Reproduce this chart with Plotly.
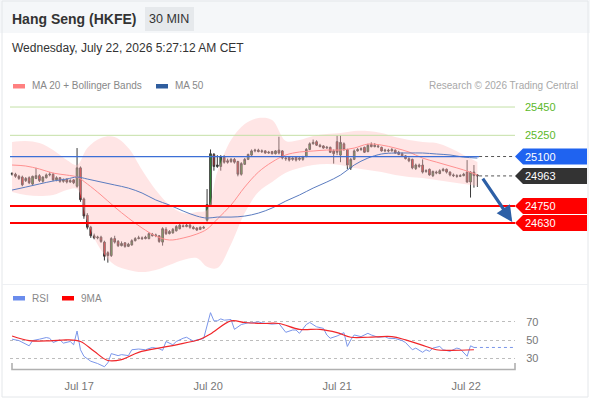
import plotly.graph_objects as go

W, H = 590, 400

# 30 min candles, index 0..136
opens = [24975, 24975, 24960, 24955, 24930, 24950, 24905, 24945, 24965, 24925, 24950, 24970, 24975, 24935, 24950, 24925, 24940, 24920, 24935, 24890,
         25020, 24800, 24685, 24600, 24540, 24525, 24530, 24495, 24420, 24400,
         24520, 24500, 24470, 24490, 24465, 24475, 24505, 24520, 24525, 24520,
         24520, 24550, 24540, 24540, 24495, 24585, 24555, 24560, 24575, 24590,
         24610, 24605, 24615, 24600, 24595, 24585, 24600, 24650, 24760, 25115,
         25030, 25030, 25095, 25070, 25065, 25080, 25065, 24975, 25045, 25080,
         25110, 25140, 25145, 25135, 25140, 25125, 25135, 25120, 25145, 25140,
         25090, 25095, 25080, 25095, 25080, 25080, 25100, 25150, 25190, 25205,
         25180, 25175, 25160, 25165, 25140, 25205, 25110, 25190, 25150, 25020,
         25080, 25140, 25150, 25165, 25135, 25185, 25170, 25175, 25165, 25140,
         25145, 25140, 25145, 25130, 25120, 25105, 25085, 25080, 25015, 25040,
         25040, 24995, 25010, 24965, 24990, 24980, 25000, 25010, 24990, 24970,
         24965, 24960, 24965, 24990, 24920, 24990, 24970]
highs = [24990, 24985, 24970, 24965, 24955, 24960, 24965, 25020, 24975, 24960, 24980, 24990, 24985, 24960, 24955, 24945, 24945, 24940, 24940, 25160,
         25030, 24810, 24700, 24610, 24555, 24540, 24540, 24505, 24430, 24530,
         24540, 24510, 24500, 24495, 24490, 24515, 24530, 24540, 24535, 24540,
         24565, 24560, 24555, 24545, 24600, 24600, 24580, 24595, 24615, 24625,
         24620, 24625, 24625, 24610, 24600, 24605, 24610, 24870, 25150, 25125,
         25110, 25110, 25110, 25085, 25090, 25090, 25070, 25060, 25090, 25120,
         25150, 25155, 25155, 25150, 25145, 25140, 25140, 25145, 25240, 25145,
         25100, 25100, 25095, 25100, 25095, 25105, 25160, 25200, 25220, 25215,
         25190, 25180, 25175, 25170, 25150, 25250, 25250, 25200, 25155, 25090,
         25150, 25160, 25165, 25170, 25190, 25200, 25195, 25185, 25170, 25155,
         25155, 25160, 25150, 25140, 25130, 25110, 25095, 25085, 25050, 25050,
         25080, 25010, 25015, 25000, 25000, 25010, 25020, 25015, 24995, 24980,
         24975, 24975, 24985, 25075, 24995, 25040, 24975]
lows = [24965, 24950, 24935, 24890, 24920, 24905, 24895, 24940, 24920, 24915, 24945, 24960, 24925, 24925, 24915, 24915, 24910, 24915, 24905, 24880,
        24780, 24660, 24585, 24525, 24515, 24515, 24490, 24365, 24350, 24390,
        24485, 24460, 24465, 24455, 24460, 24470, 24500, 24515, 24510, 24515,
        24515, 24535, 24530, 24490, 24470, 24545, 24550, 24555, 24570, 24585,
        24600, 24600, 24590, 24585, 24575, 24580, 24590, 24640, 24750, 25000,
        25020, 25000, 25050, 25050, 25055, 25050, 24960, 24965, 25040, 25075,
        25105, 25130, 25130, 25125, 25120, 25120, 25115, 25115, 25115, 25080,
        25070, 25065, 25070, 25065, 25070, 25070, 25095, 25145, 25185, 25175,
        25165, 25155, 25155, 25125, 25050, 25110, 25060, 25140, 25010, 25005,
        25075, 25135, 25140, 25125, 25130, 25165, 25165, 25160, 25135, 25130,
        25130, 25135, 25120, 25110, 25100, 25080, 25060, 25010, 25005, 25020,
        24980, 24985, 24965, 24955, 24975, 24975, 24995, 24980, 24960, 24955,
        24950, 24955, 24960, 24915, 24810, 24880, 24885]
closes = [24980, 24960, 24945, 24900, 24945, 24915, 24960, 24965, 24930, 24955, 24970, 24975, 24935, 24950, 24925, 24935, 24920, 24930, 24915, 25020,
          24795, 24680, 24600, 24540, 24525, 24530, 24500, 24395, 24400, 24520,
          24495, 24470, 24485, 24465, 24480, 24505, 24520, 24525, 24520, 24530,
          24555, 24540, 24545, 24500, 24590, 24555, 24570, 24585, 24605, 24615,
          24605, 24615, 24600, 24590, 24580, 24600, 24595, 24760, 25120, 25030,
          25040, 25100, 25060, 25060, 25080, 25060, 24975, 25050, 25080, 25115,
          25140, 25145, 25135, 25140, 25125, 25130, 25120, 25140, 25125, 25090,
          25085, 25075, 25090, 25075, 25090, 25100, 25150, 25190, 25200, 25180,
          25170, 25160, 25165, 25130, 25120, 25130, 25200, 25150, 25040, 25080,
          25140, 25150, 25155, 25130, 25180, 25170, 25180, 25170, 25140, 25145,
          25140, 25150, 25125, 25115, 25105, 25085, 25070, 25020, 25040, 25030,
          24990, 25000, 24970, 24995, 24985, 25000, 25010, 24990, 24970, 24965,
          24960, 24965, 24975, 24920, 24990, 24965, 24963]
bar_idx = list(range(len(closes)))

# overlays read at a subset of candles
ov_idx = [0, 4, 8, 12, 16, 19, 22, 26, 30, 34, 38, 42, 46, 50, 54, 57, 60, 64, 68, 72,
          76, 80, 84, 88, 92, 96, 100, 104, 108, 112, 116, 120, 124, 128, 132, 136]
ma20 = [25040, 25033, 25012, 24983, 24969, 24955, 24906, 24828, 24743, 24665, 24595, 24538, 24510, 24524, 24552, 24587, 24658, 24757, 24884, 24990,
        25061, 25111, 25132, 25139, 25146, 25146, 25160, 25188, 25181, 25160, 25132, 25089, 25061, 25033, 25005, 24969]
ma50 = [24863, 24884, 24906, 24927, 24941, 24955, 24941, 24920, 24899, 24877, 24842, 24793, 24757, 24715, 24679, 24665, 24672, 24672, 24679, 24700,
        24736, 24785, 24828, 24877, 24920, 24969, 25040, 25089, 25118, 25125, 25125, 25125, 25118, 25111, 25096, 25089]
bb_upper = [25203, 25210, 25195, 25146, 25075, 25040, 25160, 25231, 25238, 25160, 25005, 24863, 24757, 24700, 24708, 24722, 24990, 25217, 25330, 25372,
            25358, 25210, 25217, 25245, 25259, 25266, 25280, 25280, 25266, 25238, 25217, 25203, 25195, 25160, 25111, 25061]
bb_lower = [24849, 24828, 24821, 24828, 24863, 24870, 24637, 24439, 24333, 24298, 24283, 24298, 24333, 24368, 24382, 24320, 24312, 24480, 24700, 24850,
            24920, 24985, 25019, 25040, 25047, 25040, 25019, 25005, 24990, 24969, 24955, 24948, 24934, 24920, 24906, 24892]

rsi_idx = [0, 2, 5, 6, 8, 10, 11, 12, 14, 15, 17, 18, 19, 20, 21, 23, 25, 27, 28, 29,
           31, 32, 34, 35, 37, 39, 41, 43, 44, 45, 47, 48, 50, 51, 53, 54, 56, 57, 58, 59,
           60, 61, 62, 64, 65, 67, 69, 70, 72, 73, 76, 78, 80, 82, 83, 84, 86, 87, 89, 91,
           92, 93, 95, 97, 98, 99, 100, 102, 104, 105, 107, 109, 110, 112, 114, 115, 117, 118, 120, 121,
           122, 123, 125, 126, 128, 130, 131, 133, 134, 135]
rsi_val = [51.1, 49.6, 43.9, 49.6, 51.1, 52.9, 52.1, 47.5, 50.4, 46.8, 48.6, 45.0, 60.0, 39.6, 32.5, 27.1, 24.6, 21.1, 25.4, 35.4,
           33.2, 34.3, 33.2, 39.6, 40.4, 39.6, 42.1, 40.7, 38.9, 48.6, 45.0, 48.6, 52.1, 53.2, 48.9, 50.4, 51.8, 64.6, 80.0, 71.1,
           71.1, 73.2, 71.8, 72.5, 61.8, 67.1, 68.9, 68.9, 70.0, 68.9, 67.5, 68.2, 58.6, 61.1, 61.1, 57.5, 67.1, 69.3, 64.6, 62.9,
           55.7, 52.1, 54.6, 58.2, 43.2, 50.4, 55.7, 53.9, 57.5, 55.7, 53.2, 53.9, 52.1, 51.8, 49.6, 47.5, 39.6, 41.4, 36.8, 39.6,
           37.9, 41.4, 43.2, 39.6, 37.9, 41.4, 40.4, 32.5, 43.9, 42.1]
ma9_idx = [0, 5, 11, 16, 20, 24, 28, 32, 37, 44, 48, 55, 58, 64, 68, 73, 78, 84, 90, 95, 99, 104, 111, 115, 121, 124, 128, 135]
ma9_val = [54.6, 49.6, 49.3, 50.4, 48.6, 37.9, 27.9, 28.9, 36.8, 42.1, 45.0, 51.0, 56.8, 71.0, 69.3, 68.2, 68.2, 61.8, 61.8, 58.2,
           53.2, 53.2, 53.9, 50.4, 43.2, 39.6, 38.9, 39.6]

# day ticks (candle index positions)
day_pos = [19.6, 57.3, 95.0, 132.7]
day_labels = ["Jul 17", "Jul 20", "Jul 21", "Jul 22"]

resistances = [25450, 25250]
pivot = 25100
last_price = 24963
supports = [24750, 24630]
rsi_levels = [30, 50, 70]

X_RANGE = [-0.6, 147]
Y_RANGE = [24206, 25535]
R_RANGE = [17, 92.7]
XD = [10 / W, 515 / W]
FONT = "Liberation Sans, Arial, sans-serif"


def px(x):
    return x / W


def py(y):
    return 1 - y / H


fig = go.Figure()

# bollinger band fill
fig.add_trace(go.Scatter(x=ov_idx, y=bb_lower, mode="lines", line=dict(width=0, shape="spline"),
                         hoverinfo="skip", showlegend=False, xaxis="x", yaxis="y"))
fig.add_trace(go.Scatter(x=ov_idx, y=bb_upper, mode="lines", line=dict(width=0, shape="spline"),
                         fill="tonexty", fillcolor="rgba(255,190,190,0.4)",
                         hoverinfo="skip", showlegend=False, xaxis="x", yaxis="y"))
fig.add_trace(go.Scatter(x=ov_idx, y=ma20, mode="lines", line=dict(color="#ff9090", width=1, shape="spline"),
                         showlegend=False, xaxis="x", yaxis="y"))
fig.add_trace(go.Scatter(x=ov_idx, y=ma50, mode="lines", line=dict(color="#5b7cc0", width=1, shape="spline"),
                         showlegend=False, xaxis="x", yaxis="y"))

fig.add_trace(go.Candlestick(
    x=bar_idx, open=opens, high=highs, low=lows, close=closes,
    increasing=dict(line=dict(color="#3a3a3a", width=1), fillcolor="#2f9a2f"),
    decreasing=dict(line=dict(color="#3a3a3a", width=1), fillcolor="#e8171b"),
    whiskerwidth=0, showlegend=False, xaxis="x", yaxis="y"))

# RSI panel
fig.add_trace(go.Scatter(x=rsi_idx, y=rsi_val, mode="lines", line=dict(color="#7b96ea", width=1),
                         showlegend=False, xaxis="x2", yaxis="y2"))
fig.add_trace(go.Scatter(x=ma9_idx, y=ma9_val, mode="lines", line=dict(color="#f0262a", width=1.2, shape="spline"),
                         showlegend=False, xaxis="x2", yaxis="y2"))
fig.add_trace(go.Scatter(x=[rsi_idx[-1], X_RANGE[1]], y=[rsi_val[-1], rsi_val[-1]], mode="lines",
                         line=dict(color="#7b96ea", width=1, dash="dot"),
                         showlegend=False, xaxis="x2", yaxis="y2"))

shapes = []
# header band and frame
shapes.append(dict(type="rect", xref="paper", yref="paper", x0=0, x1=1, y0=py(33), y1=1,
                   fillcolor="#f5f7f9", line=dict(width=0), layer="below"))
shapes.append(dict(type="rect", xref="paper", yref="paper", x0=px(2), x1=px(588), y0=py(397), y1=py(1),
                   fillcolor="rgba(0,0,0,0)", line=dict(color="#e4e7ea", width=1)))
shapes.append(dict(type="line", xref="paper", yref="paper", x0=px(2), x1=px(588), y0=py(284.5), y1=py(284.5),
                   line=dict(color="#eef0f3", width=1)))
# timeframe box
shapes.append(dict(type="rect", xref="paper", yref="paper", x0=px(145), x1=px(194), y0=py(31), y1=py(7),
                   fillcolor="#e6e9ec", line=dict(width=0)))
# legend swatches
shapes.append(dict(type="rect", xref="paper", yref="paper", x0=px(13), x1=px(25), y0=py(88.5), y1=py(84),
                   fillcolor="#ff8080", line=dict(width=0)))
shapes.append(dict(type="rect", xref="paper", yref="paper", x0=px(156), x1=px(168), y0=py(88.5), y1=py(84),
                   fillcolor="#2f5d9e", line=dict(width=0)))
shapes.append(dict(type="rect", xref="paper", yref="paper", x0=px(13), x1=px(25), y0=py(300.5), y1=py(296),
                   fillcolor="#6a8cec", line=dict(width=0)))
shapes.append(dict(type="rect", xref="paper", yref="paper", x0=px(62), x1=px(74), y0=py(300.5), y1=py(296),
                   fillcolor="#ff0000", line=dict(width=0)))

# key levels
for lv in resistances:
    shapes.append(dict(type="line", xref="paper", yref="y", x0=XD[0], x1=XD[1], y0=lv, y1=lv,
                       line=dict(color="#c4e0a6", width=1)))
shapes.append(dict(type="line", xref="x", yref="y", x0=X_RANGE[0], x1=bar_idx[-1] + 0.5, y0=pivot, y1=pivot,
                   line=dict(color="#3c6fd6", width=1.2)))
for lv in supports:
    shapes.append(dict(type="line", xref="paper", yref="y", x0=XD[0], x1=XD[1], y0=lv, y1=lv,
                       line=dict(color="#ff0000", width=2)))
for lv in (last_price, pivot):
    shapes.append(dict(type="line", xref="x", yref="y", x0=bar_idx[-1] + 0.5, x1=X_RANGE[1], y0=lv, y1=lv,
                       line=dict(color="#555555", width=1, dash="dot")))

# price tags on the right
half = 8 * (Y_RANGE[1] - Y_RANGE[0]) / ((py(95) - py(283)) * H)
tag_x0, tag_x1, tag_x2 = px(515), px(523), px(587)
tags = [(pivot, "#1f63f0"), (last_price, "#333333"), (supports[0], "#ff0000"), (supports[1], "#ff0000")]
for lv, col in tags:
    path = "M {a},{y} L {b},{t} L {c},{t} L {c},{bt} L {b},{bt} Z".format(
        a=tag_x0, b=tag_x1, c=tag_x2, y=lv, t=lv + half, bt=lv - half)
    shapes.append(dict(type="path", xref="paper", yref="y", path=path, fillcolor=col, line=dict(width=0)))

# x axis line with end ticks
shapes.append(dict(type="path", xref="paper", yref="paper",
                   path="M {0},{1} L {0},{2} L {3},{2} L {3},{1}".format(px(12), py(363), py(369.5), px(515)),
                   line=dict(color="#b0b0b0", width=1.6)))

ann = []


def label(x, y, text, size=11, color="#888888", xanchor="left", bold=False):
    if bold:
        text = "<b>" + text + "</b>"
    ann.append(dict(x=px(x), y=py(y), xref="paper", yref="paper", text=text, showarrow=False,
                    xanchor=xanchor, yanchor="middle", xshift=-2, font=dict(size=size, color=color, family=FONT)))


label(12, 19, "Hang Seng (HKFE)", size=14, color="#333333", bold=True)
label(171, 19, "30 MIN", size=12.5, color="#333333", xanchor="center")
label(12, 48, "Wednesday, July 22, 2026 5:27:12 AM CET", size=12, color="#333333")
label(32, 86, "MA 20 + Bollinger Bands", size=10, color="#888888")
label(175, 86, "MA 50", size=10, color="#888888")
label(582, 86, "Research \u00a9 2026 Trading Central", size=10, color="#a8a8a8", xanchor="right")
label(32, 298, "RSI", size=10, color="#888888")
label(81, 298, "9MA", size=10, color="#888888")

for lv in resistances:
    ann.append(dict(x=px(523), y=lv, xref="paper", yref="y", text=str(lv), showarrow=False, xanchor="left",
                    yanchor="middle", font=dict(size=11, color="#5cb82a", family=FONT)))
for lv, col in tags:
    ann.append(dict(x=px(523), y=lv, xref="paper", yref="y", text=str(lv), showarrow=False, xanchor="left",
                    yanchor="middle", font=dict(size=11, color="white", family=FONT)))

# projected move arrow
ann.append(dict(x=146.2, y=24637, ax=137.3, ay=24955, xref="x", yref="y", axref="x", ayref="y",
                text="", showarrow=True, arrowhead=2, arrowsize=1, arrowwidth=3.2, arrowcolor="#2d5fa6"))

fig.update_layout(
    width=W, height=H, margin=dict(l=0, r=0, t=0, b=0),
    paper_bgcolor="white", plot_bgcolor="rgba(0,0,0,0)",
    font=dict(family=FONT, size=11, color="#777777"),
    showlegend=False, shapes=shapes, annotations=ann,
    xaxis=dict(domain=XD, range=X_RANGE, anchor="y", showgrid=False, zeroline=False, showticklabels=False,
               rangeslider=dict(visible=False), fixedrange=True),
    yaxis=dict(domain=[py(283), py(95)], range=Y_RANGE, anchor="x", showgrid=False, zeroline=False,
               showticklabels=False),
    xaxis2=dict(domain=XD, range=X_RANGE, anchor="y2", showgrid=False, zeroline=False,
                tickvals=day_pos, ticktext=day_labels, ticks="outside", ticklen=5, tickcolor="rgba(0,0,0,0)",
                tickfont=dict(size=11, color="#777777")),
    yaxis2=dict(domain=[py(370.5), py(301)], range=R_RANGE, anchor="x2", side="right",
                tickvals=rsi_levels, showgrid=True, gridcolor="#bdbdbd", griddash="dot", gridwidth=1,
                zeroline=False, ticks="outside", ticklen=8, tickcolor="rgba(0,0,0,0)",
                tickfont=dict(size=11, color="#777777")),
)

fig.write_html("out.html", config={"displayModeBar": False},
               post_script="document.body.style.margin='0px';")
